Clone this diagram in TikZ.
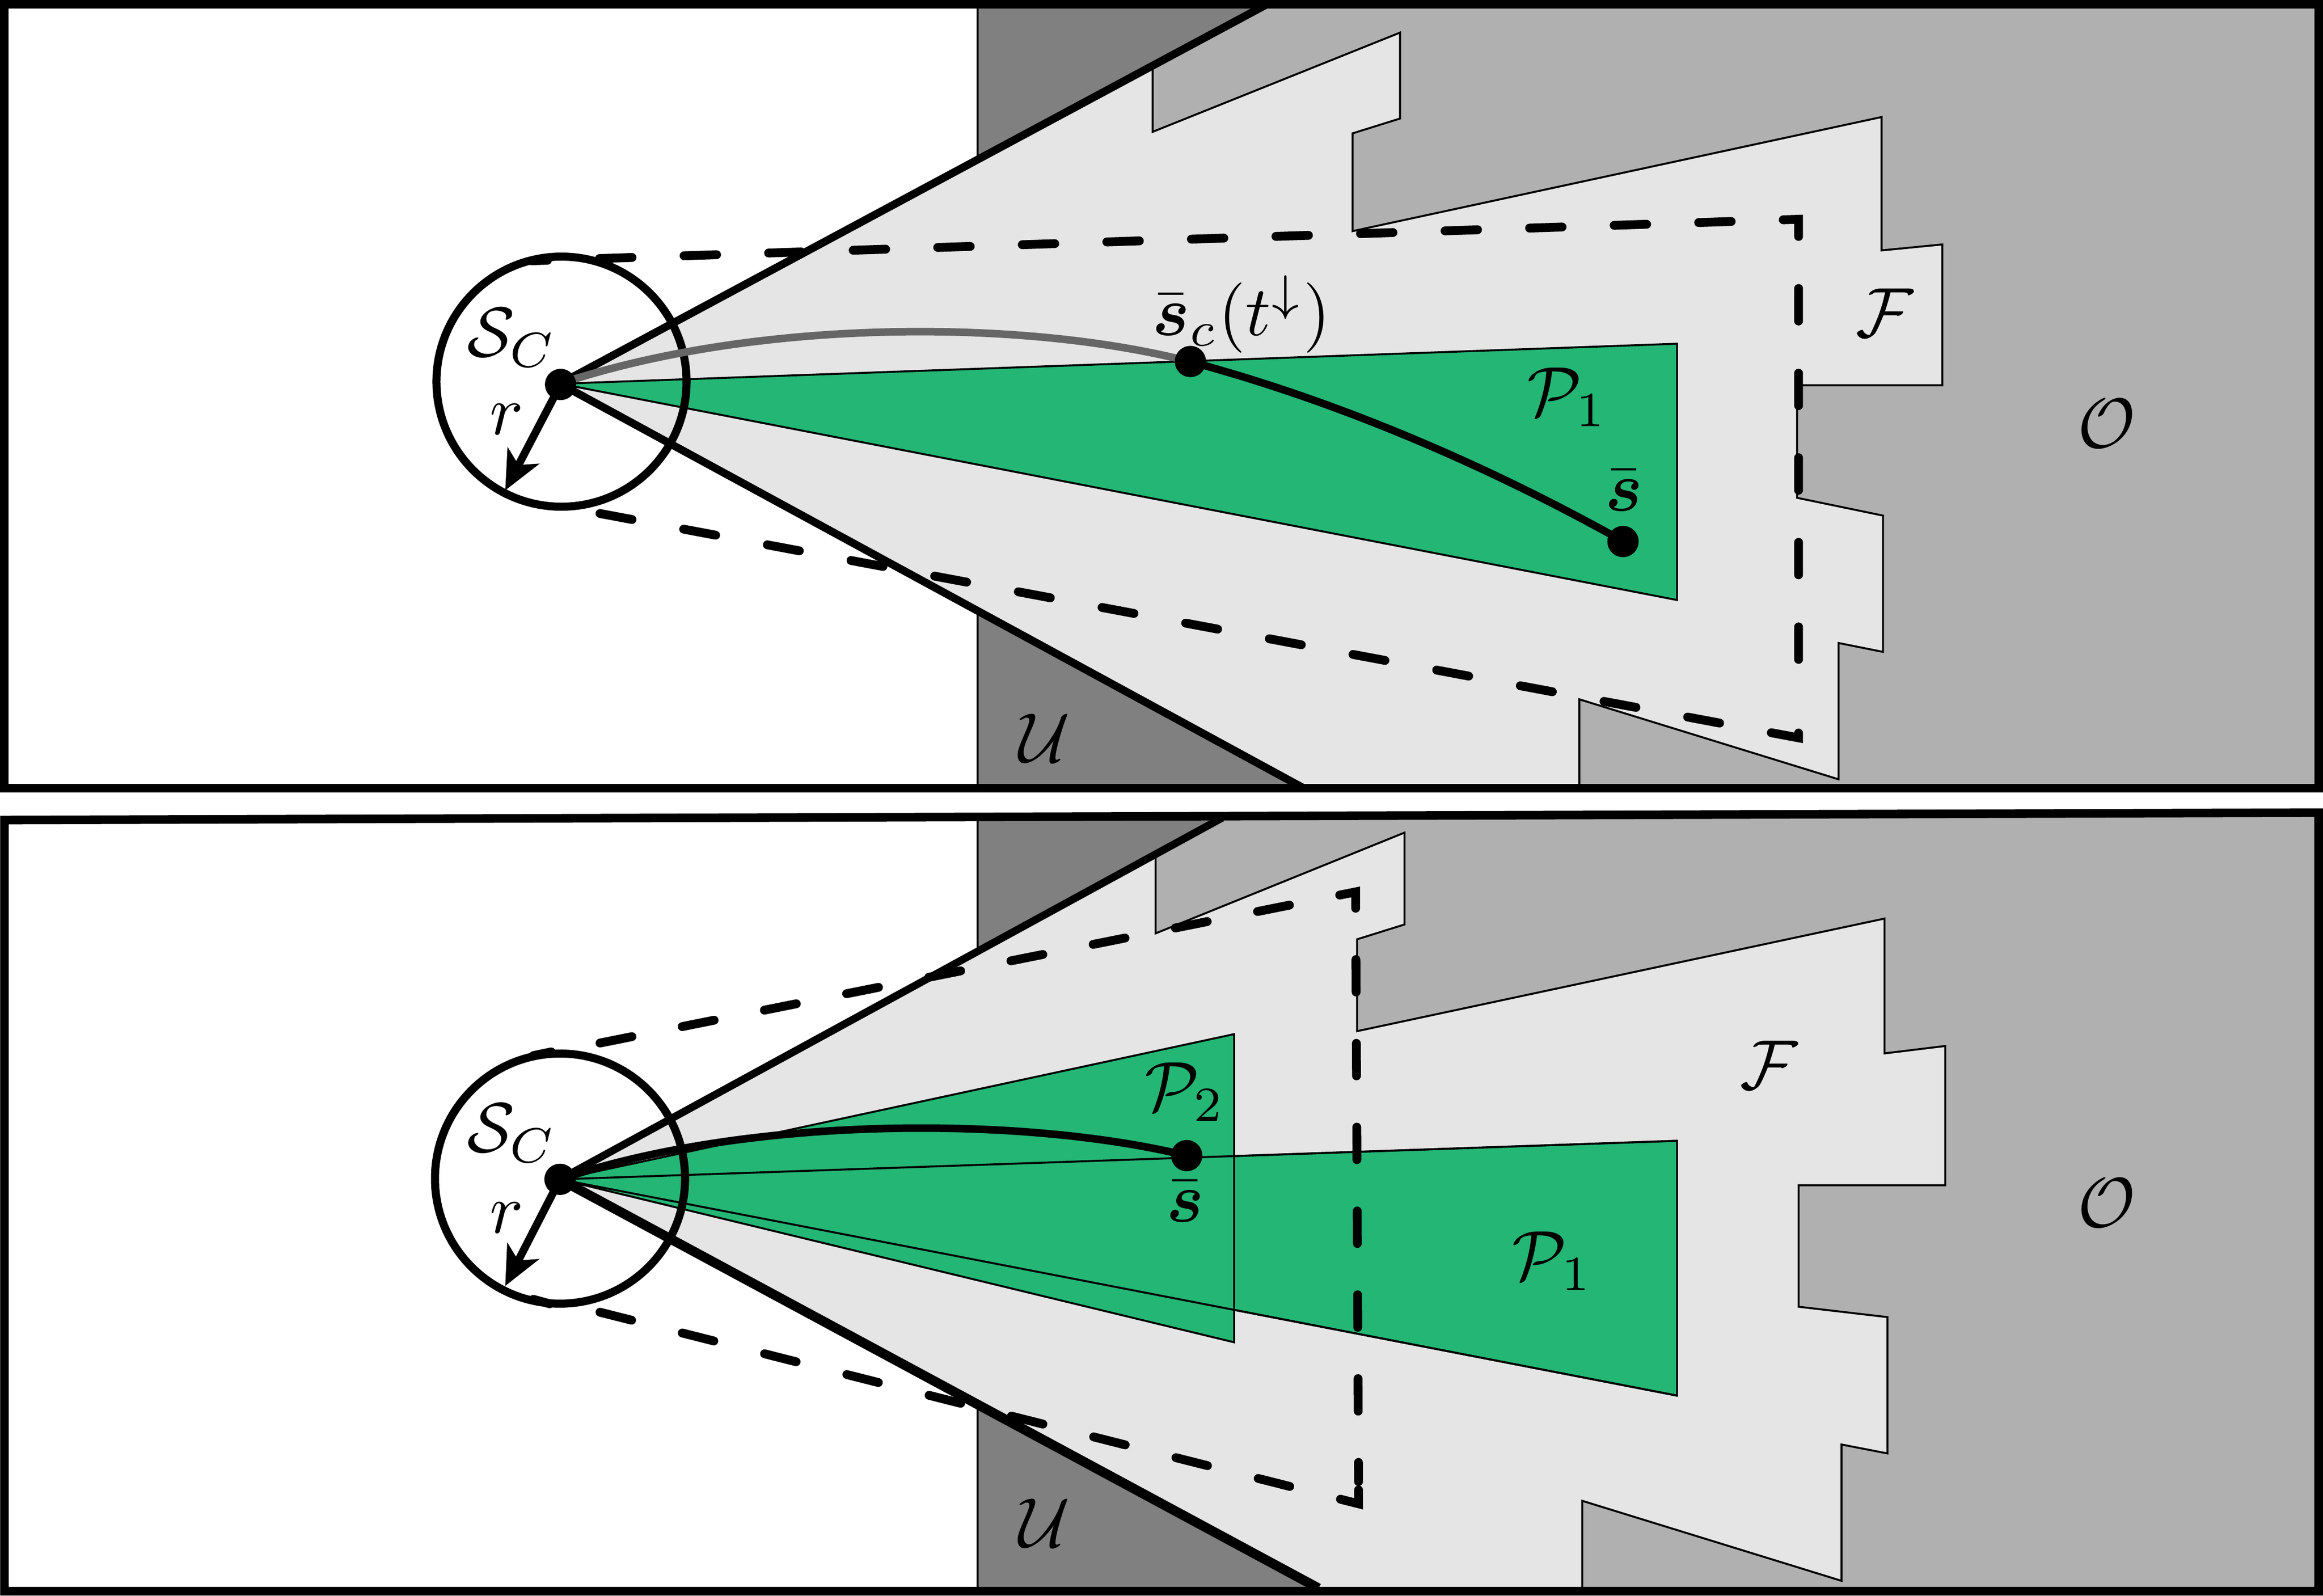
\documentclass[tikz,border=0pt]{standalone}
\usepackage{amsmath}
\usetikzlibrary{arrows.meta}
\definecolor{obst}{HTML}{B0B0B0}
\definecolor{unk}{HTML}{808080}
\definecolor{free}{HTML}{E5E5E5}
\definecolor{poly}{HTML}{24B675}
\definecolor{past}{HTML}{666666}
\tikzset{
  panelframe/.style={draw=black,line width=3.3pt,line join=miter},
  regionline/.style={draw=black,line width=0.75pt,line join=miter},
  polyregion/.style={regionline,fill=poly},
  coneline/.style={draw=black,line width=3pt},
  dashline/.style={draw=black,line width=3.4pt,line cap=round,dash pattern=on 12.5pt off 20pt},
  ball/.style={draw=black,line width=3.1pt},
  radiusline/.style={draw=black,line width=3pt,-{Stealth[length=15pt,width=13.5pt,inset=4pt]}},
  trajline/.style={draw=black,line width=2.9pt},
  dotmark/.style={circle,fill=black,inner sep=0pt,minimum size=12pt},
  lab/.style={inner sep=0pt,transform shape,scale=2.7}
}
\begin{document}
\begin{tikzpicture}[x=0.02cm,y=-0.02cm]
\useasboundingbox (0,0) rectangle (1568,1077.2);
% ---------- top panel
\fill[obst] (660,3) rectangle (1565,532);
\fill[unk] (660,3) -- (855,3) -- (660,108) -- cycle;
\fill[unk] (660,412) -- (880,532) -- (660,532) -- cycle;
\draw[line width=0.75pt] (660,3) -- (660,108) (660,412) -- (660,532);
\path[regionline,fill=free] (378,259) -- (778,44) -- (778,89) -- (945,22) -- (945,80) -- (913,90) -- (913,156)
  -- (1270,79) -- (1270,169) -- (1311,165) -- (1311,260) -- (1213,260) -- (1213,336) -- (1271,348) -- (1271,440)
  -- (1241,434) -- (1241,526) -- (1066,472) -- (1066,532) -- (880,532) -- cycle;
\path[polyregion] (378,259) -- (1132,232) -- (1132,405) -- cycle;
\path[coneline] (855,3) -- (378,259) -- (880,532);
\path[dashline,dash phase=6.5pt] (359,176) -- (1214,148) -- (1214,470);
\path[dashline,dash pattern=on 12.5pt off 20.2pt] (405,346.6) -- (1214,498) -- (1214,480);
\path[ball] (379,257.6) circle[radius=84.4];
\path[trajline,draw=past] (378,259) .. controls (510,215) and (690,215) .. (803,244);
\path[trajline] (803,244) .. controls (900,270) and (1000,312) .. (1095,365);
\node[dotmark] (a1) at (378.4,259.5) {};
\node[dotmark] (c1) at (803.5,244) {};
\node[dotmark] (s1) at (1095.5,365.5) {};
\coordinate (r1) at (341,331);
\path[radiusline] (a1.center) -- (r1);
\node[lab] (lS1) at (345.5,228) {$\mathcal{S}_C$};
\node[lab] (lr1) at (342,283) {$r$};
\node[lab] (lc1) at (838,212) {$\bar{\boldsymbol{s}}_c(t^{\downarrow})$};
\node[lab] (lP1) at (1058,268) {$\mathcal{P}_1$};
\node[lab] (ls1) at (1096,331) {$\bar{\boldsymbol{s}}$};
\node[lab] (lF1) at (1272,211) {$\mathcal{F}$};
\node[lab] (lO1) at (1422,286) {$\mathcal{O}$};
\node[lab] (lU1) at (705,498) {$\mathcal{U}$};
\path[panelframe] (3,3) rectangle (1565,532);
% ---------- bottom panel
\fill[obst] (660,552) -- (1565,549) -- (1565,1073) -- (660,1073) -- cycle;
\fill[unk] (660,552) -- (825,552) -- (660,642) -- cycle;
\fill[unk] (660,948) -- (890,1072) -- (660,1072) -- cycle;
\draw[line width=0.75pt] (660,552) -- (660,642) (660,948) -- (660,1072);
\path[regionline,fill=free] (378,796) -- (780,577) -- (780,630) -- (948,562) -- (948,624) -- (916,634) -- (916,696)
  -- (1272,620) -- (1272,711) -- (1313,706) -- (1313,800) -- (1214,800) -- (1214,882) -- (1274,889) -- (1274,981)
  -- (1243,975) -- (1243,1067) -- (1068,1013) -- (1068,1073) -- (890,1073) -- cycle;
\path[polyregion] (378,796) -- (1132,770) -- (1132,942) -- cycle;
\path[polyregion] (378,796) -- (833,698) -- (833,906) -- cycle;
\draw[line width=0.75pt] (378,796) -- (1132,770) (378,796) -- (1132,942);
\path[coneline,line width=2.9pt] (825,552) -- (378,796);
\path[coneline,line width=3.7pt] (378,796) -- (890,1072);
\path[dashline,dash pattern=on 12.5pt off 19.7pt] (405,704) -- (915,602) -- (917,1000);
\path[dashline,dash pattern=on 12.5pt off 20.1pt] (405,885.7) -- (917,1015) -- (917,1000);
\path[dashline] (360,712.5) -- (372,710);
\path[dashline] (360,877) -- (371,880);
\path[ball] (378,795.5) circle[radius=84.4];
\path[trajline] (378,796) .. controls (505,753) and (690,753) .. (801,780);
\node[dotmark] (a2) at (378,796) {};
\node[dotmark] (s2) at (801,780) {};
\coordinate (r2) at (341,868);
\path[radiusline] (a2.center) -- (r2);
\node[lab] (lS2) at (345.5,765) {$\mathcal{S}_C$};
\node[lab] (lr2) at (342,822) {$r$};
\node[lab] (lP2) at (800,737) {$\mathcal{P}_2$};
\node[lab] (ls2) at (800,811) {$\bar{\boldsymbol{s}}$};
\node[lab] (lP3) at (1048,851) {$\mathcal{P}_1$};
\node[lab] (lF2) at (1194,719) {$\mathcal{F}$};
\node[lab] (lO2) at (1422,812) {$\mathcal{O}$};
\node[lab] (lU2) at (705,1028) {$\mathcal{U}$};
\path[panelframe] (3,553.5) -- (1565,548.5) -- (1565,1074) -- (3,1074) -- cycle;
\end{tikzpicture}
\end{document}
